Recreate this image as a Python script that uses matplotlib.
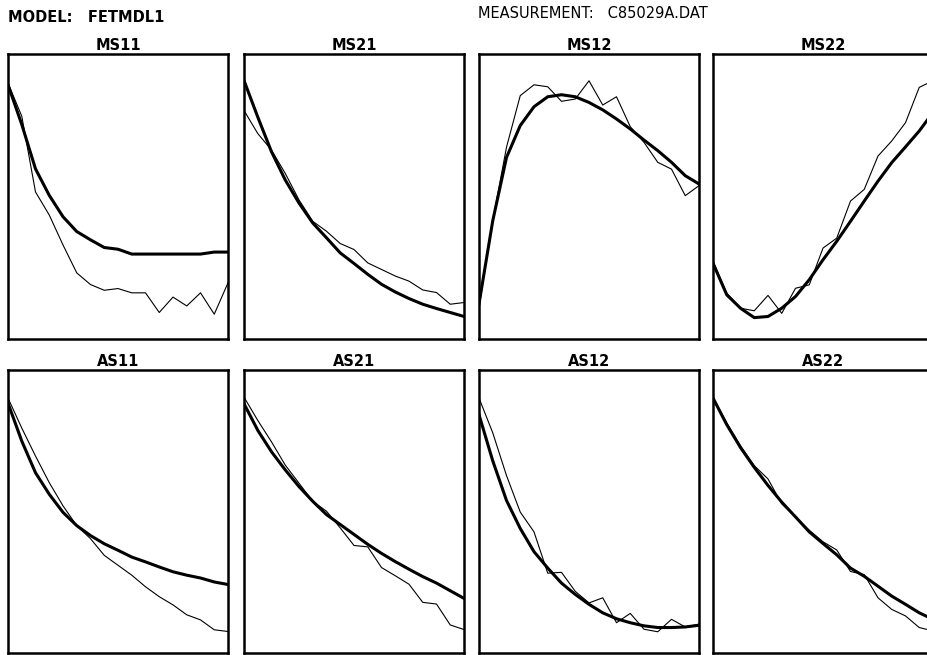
import matplotlib
matplotlib.use("Agg")
from matplotlib import pyplot as plt
import numpy as np

# frequency index (17 points per trace)
freq = np.arange(17)

names = "MS11 MS21 MS12 MS22 AS11 AS21 AS12 AS22".split()

# measured (thin) and model (thick) traces, scaled 0..1 inside each box
meas = {}
model = {}

meas["MS11"] = [0.898, 0.782, 0.516, 0.435, 0.330, 0.232, 0.191, 0.171, 0.177,
                0.162, 0.162, 0.093, 0.147, 0.116, 0.162, 0.087, 0.197]
model["MS11"] = [0.892, 0.753, 0.597, 0.504, 0.429, 0.377, 0.348, 0.321, 0.315,
                 0.298, 0.298, 0.298, 0.298, 0.298, 0.298, 0.305, 0.305]

meas["MS21"] = [0.802, 0.721, 0.663, 0.581, 0.488, 0.413, 0.378, 0.335, 0.314,
                0.267, 0.244, 0.221, 0.203, 0.172, 0.163, 0.122, 0.128]
model["MS21"] = [0.907, 0.779, 0.657, 0.558, 0.477, 0.407, 0.355, 0.302, 0.265,
                 0.227, 0.192, 0.165, 0.142, 0.122, 0.107, 0.093, 0.079]

meas["MS12"] = [0.111, 0.415, 0.673, 0.854, 0.892, 0.885, 0.834, 0.842, 0.906,
                0.821, 0.850, 0.745, 0.690, 0.620, 0.596, 0.503, 0.538]
model["MS12"] = [0.123, 0.415, 0.637, 0.749, 0.815, 0.850, 0.857, 0.850, 0.830,
                 0.804, 0.772, 0.737, 0.698, 0.661, 0.620, 0.573, 0.544]

meas["MS22"] = [0.272, 0.161, 0.108, 0.099, 0.153, 0.090, 0.178, 0.190, 0.319,
                0.354, 0.484, 0.525, 0.642, 0.695, 0.759, 0.883, 0.906]
model["MS22"] = [0.266, 0.155, 0.108, 0.075, 0.079, 0.108, 0.149, 0.208, 0.278,
                 0.343, 0.413, 0.484, 0.554, 0.619, 0.674, 0.730, 0.795]

meas["AS11"] = [0.901, 0.795, 0.696, 0.602, 0.520, 0.450, 0.404, 0.345, 0.310,
                0.275, 0.234, 0.199, 0.170, 0.135, 0.117, 0.082, 0.076]
model["AS11"] = [0.883, 0.749, 0.637, 0.561, 0.497, 0.450, 0.415, 0.386, 0.363,
                 0.339, 0.322, 0.304, 0.287, 0.275, 0.265, 0.251, 0.242]

meas["AS21"] = [0.904, 0.822, 0.746, 0.664, 0.600, 0.536, 0.501, 0.442, 0.380,
                0.375, 0.302, 0.273, 0.243, 0.179, 0.173, 0.099, 0.083]
model["AS21"] = [0.881, 0.787, 0.711, 0.647, 0.588, 0.536, 0.489, 0.454, 0.419,
                 0.384, 0.352, 0.323, 0.296, 0.270, 0.247, 0.220, 0.193]

meas["AS12"] = [0.901, 0.778, 0.627, 0.498, 0.428, 0.282, 0.285, 0.218, 0.177,
                0.195, 0.107, 0.140, 0.084, 0.075, 0.119, 0.092, 0.102]
model["AS12"] = [0.842, 0.679, 0.539, 0.440, 0.358, 0.300, 0.247, 0.207, 0.172,
                 0.142, 0.121, 0.107, 0.096, 0.090, 0.090, 0.092, 0.098]

meas["AS22"] = [0.901, 0.813, 0.732, 0.662, 0.615, 0.527, 0.481, 0.434, 0.393,
                0.364, 0.288, 0.277, 0.195, 0.154, 0.131, 0.090, 0.078]
model["AS22"] = [0.901, 0.807, 0.726, 0.656, 0.592, 0.533, 0.481, 0.428, 0.387,
                 0.347, 0.300, 0.271, 0.236, 0.201, 0.172, 0.142, 0.119]

W, H = 927, 655
fig = plt.figure(figsize=(W / 100, H / 100), dpi=100)

col_left = [8, 244, 479, 713]
box_w = 220
rows = [(54, 339), (370, 653)]  # top, bottom in pixels

for k, name in enumerate(names):
	r, c = divmod(k, 4)
	top, bot = rows[r]
	ax = fig.add_axes([col_left[c] / W, (H - bot) / H, box_w / W, (bot - top) / H])
	ax.plot(freq, meas[name], color="black", lw=0.8)
	ax.plot(freq, model[name], color="black", lw=2.2)
	ax.set_xlim(0, 16)
	ax.set_ylim(0, 1)
	ax.set_xticks([])
	ax.set_yticks([])
	for s in ax.spines.values():
		s.set_linewidth(1.8)
	ax.set_title(name, fontsize=10.5, fontweight="bold", pad=3)

fig.text(8 / W, 1 - 17 / H, "MODEL:   FETMDL1", fontsize=10.5, fontweight="bold", va="center", ha="left")
fig.text(478 / W, 1 - 13 / H, "MEASUREMENT:   C85029A.DAT", fontsize=10.5, va="center", ha="left")

fig.savefig("out.png", dpi=100)
